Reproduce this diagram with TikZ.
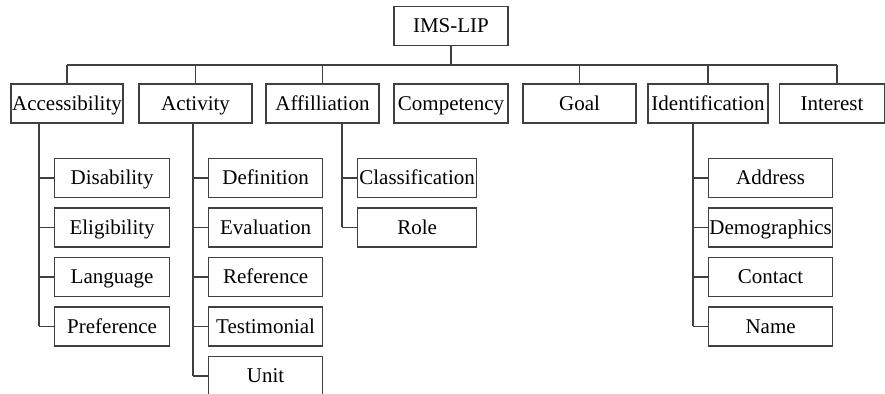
\documentclass[tikz,border=0pt]{standalone}
\usepackage{fontspec}
\setmainfont{Liberation Serif}
\usetikzlibrary{positioning}

\begin{document}
\begin{tikzpicture}[x=0.5pt,y=-0.5pt,
    box/.style={draw=black!75,line width=0.6pt,minimum height=19.5pt,inner sep=0pt,
      text height=8.4pt,text depth=1.5pt,font=\fontsize{10.5}{12}\selectfont},
    link/.style={draw=black!75,line width=0.55pt}]
    \useasboundingbox (0,0) rectangle (885,394);

    \node[box,minimum width=57pt] (ims) at (451,26) {IMS-LIP};

    % first level
    \foreach \n/\x/\w/\t in {acc/67/56pt/Accessibility,act/195.5/56.5pt/Activity,
        aff/322.5/56.5pt/Affilliation,com/451/57pt/Competency,goal/579.5/56.5pt/Goal,
        idf/708/60pt/Identification,int/832/52.5pt/Interest} {%
      \node[box,minimum width=\w] (\n) at (\x,103.5) {\t};
    }

    \coordinate (bus) at (0,65);
    \draw[link] (ims.south) -- (ims.south |- bus);
    \draw[link] (acc.north |- bus) -- (837,65);
    \foreach \n in {acc,act,aff,goal,idf} {\draw[link] (\n.north |- bus) -- (\n.north);}
    \draw[link] (837,65) -- (837,84);

    % second level
    \foreach \p/\x/\w/\last/\kids in {acc/54/57.5pt/4/{Disability,Eligibility,Language,Preference},
        act/208/57pt/5/{Definition,Evaluation,Reference,Testimonial,Unit},
        aff/357/59.5pt/2/{Classification,Role},
        idf/708/62pt/4/{Address,Demographics,Contact,Name}} {%
      \foreach \k [count=\i] in \kids {%
        \node[box,minimum width=\w,anchor=west] (\p-\i) at (\x,{178+(\i-1)*49.5}) {\k};
        \draw[link] (\p-\i.west) -- ++(-15,0);
      }
      \draw[link] (\p-\last.west) ++(-15,0) coordinate (\p-foot) -- (\p-foot |- \p.south);
    }
  \end{tikzpicture}
\end{document}
